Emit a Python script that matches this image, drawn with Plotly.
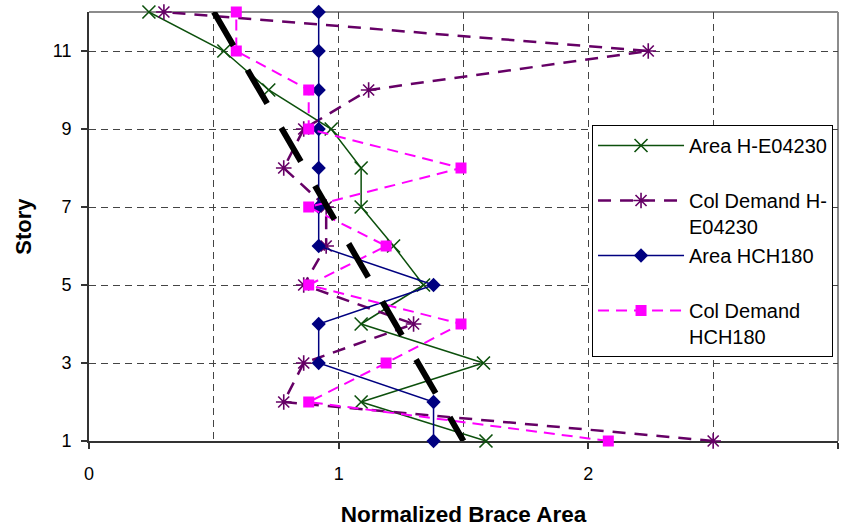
import plotly.graph_objects as go

# Story levels (1 = ground story, 12 = roof)
stories = [1, 2, 3, 4, 5, 6, 7, 8, 9, 10, 11, 12]

# Normalized brace area per story for each record / quantity
area_he04230 = [1.59, 1.09, 1.58, 1.09, 1.34, 1.22, 1.09, 1.09, 0.97, 0.72, 0.54, 0.24]
col_demand_he04230 = [2.50, 0.78, 0.86, 1.30, 0.86, 0.95, 0.95, 0.78, 0.86, 1.12, 2.24, 0.30]
area_hch180 = [1.38, 1.38, 0.92, 0.92, 1.38, 0.92, 0.92, 0.92, 0.92, 0.92, 0.92, 0.92]
col_demand_hch180 = [2.08, 0.88, 1.19, 1.49, 0.88, 1.19, 0.88, 1.49, 0.88, 0.88, 0.59, 0.59]

# Linear reference profile (top story to bottom story)
ref_x = [0.5, 1.5]
ref_y = [12, 1]

x_ticks = [0, 1, 2, 3]
y_ticks = [1, 3, 5, 7, 9, 11]

FONT = "Arial, Liberation Sans, sans-serif"

fig = go.Figure()

fig.add_trace(go.Scatter(
    x=area_he04230, y=stories, mode="lines+markers",
    name="Area H-E04230<br> ",
    line=dict(color="#0c500c", width=1.5),
    marker=dict(symbol="x-thin-open", size=13, line=dict(color="#0c500c", width=1.6)),
    cliponaxis=False,
))
fig.add_trace(go.Scatter(
    x=col_demand_he04230, y=stories, mode="lines+markers",
    name="Col Demand H-<br>E04230",
    line=dict(color="#660066", width=2.5, dash="13px,9px"),
    marker=dict(symbol="asterisk-open", size=13, line=dict(color="#660066", width=1.6)),
    cliponaxis=False,
))
fig.add_trace(go.Scatter(
    x=area_hch180, y=stories, mode="lines+markers",
    name="Area HCH180<br> ",
    line=dict(color="#000080", width=1.5),
    marker=dict(symbol="diamond", size=11, color="#000080"),
    cliponaxis=False,
))
fig.add_trace(go.Scatter(
    x=col_demand_hch180, y=stories, mode="lines+markers",
    name="Col Demand<br>HCH180",
    line=dict(color="#ff00ff", width=2, dash="11px,7px"),
    marker=dict(symbol="square", size=11, color="#ff00ff"),
    cliponaxis=False,
))
fig.add_trace(go.Scatter(
    x=ref_x, y=ref_y, mode="lines",
    line=dict(color="black", width=6, dash="39px,28px"),
    showlegend=False, hoverinfo="skip",
))

grid_dash = "7px,5px"
fig.update_xaxes(
    range=[0, 3], tickvals=x_ticks, ticktext=[str(v) for v in x_ticks],
    showgrid=True, gridcolor="#444444", griddash=grid_dash, gridwidth=1,
    minor=dict(dtick=0.5, tick0=0, showgrid=True, gridcolor="#444444",
               griddash=grid_dash, gridwidth=1, ticks=""),
    showline=True, linecolor="#333333", linewidth=2,
    ticks="outside", ticklen=6, tickcolor="#333333", tickwidth=1.5,
    tickfont=dict(family=FONT, size=18, color="black"),
    ticklabelstandoff=9,
    title=dict(text="<b>Normalized Brace Area</b>", standoff=24,
               font=dict(family=FONT, size=22.5, color="black")),
    zeroline=False, layer="below traces",
)
fig.update_yaxes(
    range=[1, 12], tickvals=y_ticks, ticktext=[str(v) for v in y_ticks],
    showgrid=True, gridcolor="#444444", griddash=grid_dash, gridwidth=1,
    showline=True, linecolor="#333333", linewidth=2,
    ticks="outside", ticklen=6, tickcolor="#333333", tickwidth=1.5,
    tickfont=dict(family=FONT, size=18, color="black"),
    ticklabelstandoff=6,
    title=dict(text="<b>Story</b>", standoff=15,
               font=dict(family=FONT, size=22, color="black")),
    zeroline=False, layer="below traces",
)

# Gray frame on the top and right edges of the plotting area
fig.add_shape(type="line", xref="paper", yref="paper", x0=0, x1=1, y0=1, y1=1,
              line=dict(color="#8c8c8c", width=2), layer="between")
fig.add_shape(type="line", xref="paper", yref="paper", x0=1, x1=1, y0=0, y1=1,
              line=dict(color="#8c8c8c", width=2), layer="between")

fig.update_layout(
    width=843, height=529,
    margin=dict(l=89, r=5, t=12, b=88),
    paper_bgcolor="white", plot_bgcolor="white",
    font=dict(family=FONT, color="black"),
    legend=dict(
        x=0.6716, y=0.7366, xanchor="left", yanchor="top",
        bgcolor="white", bordercolor="black", borderwidth=1,
        font=dict(family=FONT, size=20, color="black"),
        itemwidth=86, valign="top", tracegroupgap=0,
    ),
)

fig.write_html("out.html")
